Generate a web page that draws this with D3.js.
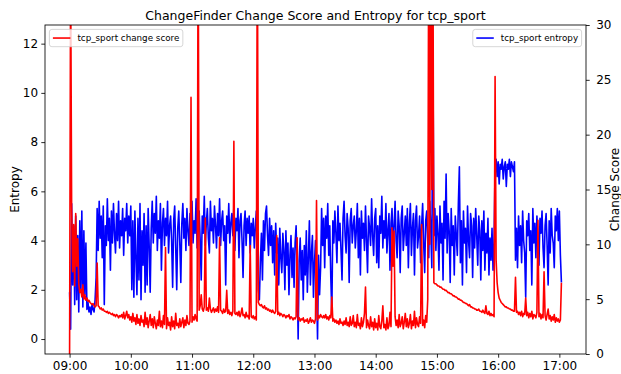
<!DOCTYPE html>
<html><head><meta charset="utf-8">
<script src="https://cdn.jsdelivr.net/npm/d3@7"></script>
<style>body{margin:0;background:#fff} svg{display:block} text{font-family:"DejaVu Sans",sans-serif;fill:#000}</style>
</head><body><svg id="c" width="621" height="374"></svg>
<script>
const chartTitle = "ChangeFinder Change Score and Entropy for tcp_sport";
const startClock = "09:00";
const stepMinutes = 1;
const entropyLabel = "Entropy";
const scoreLabel = "Change Score";
const seriesNames = ["tcp_sport change score", "tcp_sport entropy"];
const xTickLabels = ["09:00","10:00","11:00","12:00","13:00","14:00","15:00","16:00","17:00"];
const entropyTicks = [0,2,4,6,8,10,12];
const scoreTicks = [0,5,10,15,20,25,30];
const scoreRange = [0, 30];

const entropy = [
1.9,0.4,5.5,2.2,4.6,1.4,5.0,1.6,4.2,1.1,
4.8,2.0,5.2,1.3,4.4,1.8,3.9,1.2,1.5,1.1,
1.3,1.0,1.4,1.2,1.1,1.6,2.5,5.3,3.6,5.6,
4.1,5.0,3.3,5.4,1.4,4.6,3.8,5.7,4.0,4.9,
2.8,5.2,3.9,5.5,4.3,3.5,5.1,4.0,5.6,3.7,
4.8,4.2,5.3,3.4,4.9,4.4,5.5,3.9,5.0,4.2,
5.4,2.0,4.8,1.7,5.2,3.3,1.8,4.9,2.4,5.5,
1.6,4.4,3.0,5.1,1.9,4.6,2.2,5.3,3.8,1.9,
4.5,5.6,3.9,5.1,4.3,5.8,3.6,4.8,4.1,5.5,
2.8,4.7,5.3,3.8,4.9,4.2,5.6,3.5,4.6,5.0,
4.0,2.1,4.8,5.4,3.7,2.0,4.5,5.2,3.9,2.3,
4.7,5.5,4.1,4.9,3.6,5.3,4.4,3.8,5.1,4.2,
5.6,3.9,4.8,4.3,5.7,3.7,4.6,5.2,4.0,2.4,
5.0,4.3,5.8,3.8,4.7,5.3,4.1,3.5,5.6,4.4,
4.9,3.9,5.4,4.6,3.7,5.1,4.2,5.7,3.8,4.8,
5.2,4.0,4.6,2.2,5.0,4.3,5.5,3.9,4.7,5.1,
4.2,5.4,3.6,4.9,4.4,5.3,3.3,4.8,5.1,4.0,
2.5,4.6,5.2,3.8,4.9,4.3,5.0,3.5,4.7,4.2,
4.9,3.7,4.5,5.2,3.9,2.0,1.6,3.2,4.3,2.4,
4.8,3.6,5.1,5.4,4.2,3.4,4.9,3.8,4.6,3.1,
4.4,2.6,4.7,3.5,4.1,2.2,4.5,3.3,2.7,4.3,
3.6,2.0,4.4,3.0,3.9,1.8,3.4,4.2,2.5,3.7,
2.1,3.9,4.6,2.8,0.0,3.2,4.1,2.4,3.6,1.6,
3.8,2.6,4.4,1.9,3.3,4.8,2.2,3.5,4.2,1.7,
3.1,4.0,2.3,0.0,3.4,1.8,2.9,5.3,3.8,4.9,
2.9,5.0,4.1,5.5,3.4,4.6,2.5,1.0,4.8,3.9,
5.2,4.3,3.1,5.4,4.0,4.7,3.6,2.4,4.9,5.6,
4.2,3.5,5.1,4.5,2.3,4.8,5.3,3.9,4.6,5.0,
3.7,4.4,5.5,3.3,4.9,2.6,5.2,4.1,4.7,3.6,
5.4,4.0,2.7,5.0,4.5,3.8,5.7,4.2,3.4,4.9,
5.3,3.1,4.6,2.9,5.0,4.3,5.8,3.7,4.8,4.1,
5.5,3.5,4.4,5.1,2.8,4.7,5.3,3.9,4.5,5.6,
4.0,3.3,5.2,4.6,2.7,4.9,5.4,3.6,4.3,5.0,
3.8,5.3,2.9,4.7,5.5,3.4,4.5,5.1,2.6,4.8,
5.4,3.7,4.2,5.0,3.1,4.6,5.5,3.9,2.7,4.8,
5.2,4.0,3.3,5.6,4.4,2.9,12.15,4.2,5.3,3.6,
5.0,4.3,2.8,5.4,3.9,4.7,2.4,5.6,4.1,6.7,
3.5,5.1,4.4,2.3,5.3,3.8,4.6,2.6,5.0,4.2,
3.4,5.5,7.0,3.1,4.8,2.2,5.2,3.9,4.5,2.7,
5.4,4.0,3.3,5.1,4.6,2.5,4.9,3.7,5.3,4.2,
3.0,5.0,4.4,2.4,4.8,3.6,5.2,2.8,4.3,3.5,
4.9,2.6,4.1,3.2,4.5,2.8,3.9,7.1,7.3,6.6,
7.2,6.3,7.1,6.9,7.3,6.5,7.0,7.2,6.2,7.1,
6.9,7.3,6.6,7.2,7.0,6.8,7.2,3.2,4.5,2.9,
5.0,3.8,4.6,3.1,5.2,4.0,3.5,1.7,4.8,4.2,
5.1,3.6,4.4,2.2,5.3,3.9,4.7,3.3,5.0,4.1,
3.0,4.9,4.3,5.2,3.7,2.9,4.6,5.1,3.8,2.2,
4.8,3.5,5.3,4.2,3.9,2.9,5.0,4.4,5.3,4.0,
5.2,3.4,2.3
];

const changeScore = [
0,36,13.5,7.5,11.8,6.2,12.8,8.0,10.5,6.4,
5.6,5.9,5.2,6.3,5.0,5.4,4.9,5.1,4.8,4.9,
4.7,4.6,4.5,4.6,4.4,4.3,4.4,8.3,4.4,4.3,
4.1,4.2,4.0,4.1,3.9,3.9,3.8,3.9,3.7,3.8,
3.7,3.6,3.7,3.5,3.6,3.4,3.6,3.5,3.3,3.5,
3.4,3.6,3.3,3.8,3.2,3.5,3.9,3.3,3.6,3.1,
3.4,2.9,3.7,3.0,3.3,2.7,3.6,2.8,3.2,2.6,
3.5,2.9,3.1,2.5,3.8,2.7,3.3,2.4,3.0,3.6,
2.6,3.2,2.4,3.4,2.8,2.3,3.1,2.6,3.9,2.5,
3.0,2.4,3.5,2.7,9.7,2.3,3.3,2.6,2.9,2.2,
3.4,2.5,3.0,2.3,3.7,2.6,2.8,2.4,3.2,2.5,
2.9,3.3,2.4,3.1,2.6,3.5,2.8,2.7,3.0,23.4,
2.9,3.4,3.1,3.6,3.2,3.0,40,4.0,4.4,5.4,
4.1,3.9,4.3,12.4,4.0,4.2,3.9,5.1,4.1,3.8,
4.0,4.2,3.8,4.1,3.9,4.3,3.8,10.6,4.0,3.9,
3.7,4.1,3.8,3.9,5.8,3.7,4.0,3.6,3.8,3.5,
3.9,19.4,3.7,3.6,3.8,3.5,3.9,3.4,3.7,4.2,
3.5,3.6,3.3,3.8,3.4,3.5,3.2,9.9,3.4,3.3,
3.5,3.2,3.4,3.1,40,4.7,4.5,4.4,4.5,4.3,
4.2,4.4,4.1,4.2,4.0,4.1,3.9,4.0,3.8,4.0,
3.8,3.7,3.9,10.8,3.6,3.8,3.5,3.7,3.6,3.4,
3.6,3.5,3.3,3.5,3.4,3.6,3.2,3.4,3.3,3.1,
3.3,3.2,3.4,10.6,3.1,3.3,3.0,3.2,3.1,3.3,
2.9,3.1,3.0,3.2,2.8,3.0,3.3,2.9,3.1,3.0,
2.8,3.2,14.0,3.1,3.5,3.3,3.6,3.4,3.3,3.5,
3.3,3.6,3.2,3.4,3.1,3.5,3.3,5.2,3.0,3.2,
2.9,3.1,2.8,3.0,2.7,3.2,2.8,2.9,2.6,3.0,
2.7,3.3,2.6,2.9,2.5,3.4,2.6,2.8,3.5,2.5,
2.9,2.4,3.6,2.6,2.8,2.3,3.3,2.5,2.9,3.7,
6.1,2.4,3.1,2.6,2.3,3.4,2.5,2.9,2.2,3.2,
2.4,2.8,2.2,3.5,2.5,2.3,3.0,4.4,2.4,2.7,
2.2,3.3,2.3,2.6,3.8,2.5,11.5,8.0,11.2,3.4,
2.6,3.1,2.4,3.6,2.5,2.8,3.4,2.3,2.9,3.7,
2.5,3.2,2.4,2.8,3.6,2.3,3.0,2.6,3.9,2.4,
3.3,2.7,2.5,3.4,2.8,11.8,2.6,3.1,2.4,3.5,
2.9,5.0,40,10,40,15,40,6.5,6.4,6.4,
6.3,6.2,6.2,6.1,6.1,6.0,5.9,5.9,5.8,5.8,
5.7,5.6,5.6,5.5,5.5,5.4,5.3,5.3,5.2,5.2,
5.1,5.0,5.0,4.9,4.9,4.8,4.7,4.7,4.6,4.6,
4.5,4.4,4.5,4.3,4.3,4.2,4.2,4.1,4.1,4.0,
4.0,4.1,3.9,3.9,3.8,4.0,3.8,3.7,4.4,3.7,
3.6,3.9,3.5,3.7,3.5,3.6,3.4,25.3,8.6,6.5,
5.6,5.1,4.9,4.7,4.6,4.5,4.4,4.3,4.3,4.2,
4.2,4.1,4.1,4.0,4.0,3.9,3.9,7.0,3.8,3.9,
3.6,3.8,3.5,3.9,3.4,3.7,3.6,5.1,3.5,3.8,
3.3,3.7,3.4,3.9,3.2,3.6,3.5,3.3,3.8,12.2,
3.4,3.7,3.2,3.6,3.3,7.5,3.5,3.1,3.6,4.1,
3.2,3.5,3.0,3.4,3.1,3.6,2.9,3.3,3.0,3.2,
2.9,3.1,6.5
];

// ---- layout ----
const m = {l: 45, r: 586, t: 25, b: 354};
const svg = d3.select("#c");
const parseClock = d3.timeParse("%Y-%m-%d %H:%M");
const t0 = parseClock("2024-01-01 " + startClock);
const times = entropy.map((_, i) => d3.timeMinute.offset(t0, i * stepMinutes));

const tExt = d3.extent(times);
const span = tExt[1] - tExt[0];
const x = d3.scaleTime()
  .domain([new Date(+tExt[0] - span * 0.05), new Date(+tExt[1] + span * 0.05)])
  .range([m.l, m.r]);

const eExt = d3.extent(entropy);
const eSpan = eExt[1] - eExt[0];
const yL = d3.scaleLinear().domain([eExt[0] - eSpan * 0.05, eExt[1] + eSpan * 0.05]).range([m.b, m.t]);
const yR = d3.scaleLinear().domain(scoreRange).range([m.b, m.t]);

const FS = 12, TL = 3.7;

svg.append("defs").append("clipPath").attr("id", "clip")
  .append("rect").attr("x", m.l).attr("y", m.t).attr("width", m.r - m.l).attr("height", m.b - m.t);

// entropy line (blue)
svg.append("path")
  .datum(entropy.map((v, i) => [times[i], v]))
  .attr("clip-path", "url(#clip)")
  .attr("fill", "none").attr("stroke", "#0000ff").attr("stroke-width", 1.6)
  .attr("stroke-linejoin", "round").attr("stroke-linecap", "butt")
  .attr("d", d3.line().x(d => x(d[0])).y(d => yL(d[1])));

function legend(xLeft, xRight, name, color) {
  const fs = 8.75;
  const pad = 0.4 * fs, hl = 2 * fs, htp = 0.8 * fs;
  const grp = svg.append("g");
  const rect = grp.append("rect");
  const txt = grp.append("text").attr("font-size", fs).text(name);
  const tw = txt.node().getComputedTextLength();
  const bw = pad + hl + htp + tw + pad;
  const bh = 17.3;
  const bx = xLeft != null ? xLeft : xRight - bw;
  const by = m.t + 4.4;
  rect.attr("x", bx).attr("y", by).attr("width", bw).attr("height", bh)
    .attr("rx", 2.5).attr("fill", "#fff").attr("fill-opacity", 0.8)
    .attr("stroke", "#cccccc").attr("stroke-width", 0.8);
  grp.append("line").attr("x1", bx + pad).attr("x2", bx + pad + hl)
    .attr("y1", by + bh / 2).attr("y2", by + bh / 2)
    .attr("stroke", color).attr("stroke-width", 1.6);
  txt.attr("x", bx + pad + hl + htp).attr("y", by + bh / 2 + 3.1);
}

legend(null, m.r - 4.4, seriesNames[1], "#0000ff");

// change score line (red)
svg.append("path")
  .datum(changeScore.map((v, i) => [times[i], v]))
  .attr("clip-path", "url(#clip)")
  .attr("fill", "none").attr("stroke", "#ff0000").attr("stroke-width", 1.6)
  .attr("stroke-linejoin", "round").attr("stroke-linecap", "butt")
  .attr("d", d3.line().x(d => x(d[0])).y(d => yR(d[1])));

legend(m.l + 4.4, null, seriesNames[0], "#ff0000");

// spines
svg.append("rect").attr("x", m.l).attr("y", m.t).attr("width", m.r - m.l).attr("height", m.b - m.t)
  .attr("fill", "none").attr("stroke", "#000").attr("stroke-width", 0.85);

function styleAxis(g) {
  g.select(".domain").remove();
  g.selectAll(".tick line").attr("stroke", "#000").attr("stroke-width", 0.85);
  g.selectAll(".tick text").attr("font-size", FS).attr("font-family", '"DejaVu Sans", sans-serif').attr("fill", "#000");
}

const xTickDates = xTickLabels.map(s => parseClock("2024-01-01 " + s));
const fmt = d3.timeFormat("%H:%M");
svg.append("g").attr("transform", `translate(0,${m.b})`)
  .call(d3.axisBottom(x).tickValues(xTickDates).tickFormat(fmt).tickSize(TL).tickPadding(3.7).tickSizeOuter(0))
  .call(styleAxis);

svg.append("g").attr("transform", `translate(${m.l},0)`)
  .call(d3.axisLeft(yL).tickValues(entropyTicks).tickFormat(d3.format("d")).tickSize(TL).tickPadding(3.2).tickSizeOuter(0))
  .call(styleAxis);

svg.append("g").attr("transform", `translate(${m.r},0)`)
  .call(d3.axisRight(yR).tickValues(scoreTicks).tickFormat(d3.format("d")).tickSize(TL).tickPadding(6.5).tickSizeOuter(0))
  .call(styleAxis);

// title & labels
svg.append("text").attr("x", (m.l + m.r) / 2).attr("y", 20).attr("text-anchor", "middle")
  .attr("font-size", 12.5).text(chartTitle);

svg.append("text").attr("transform", `translate(19,${(m.t + m.b) / 2}) rotate(-90)`)
  .attr("text-anchor", "middle").attr("font-size", FS).text(entropyLabel);

svg.append("text").attr("transform", `translate(618.5,${(m.t + m.b) / 2}) rotate(-90)`)
  .attr("text-anchor", "middle").attr("font-size", FS).text(scoreLabel);
</script>
</body></html>
